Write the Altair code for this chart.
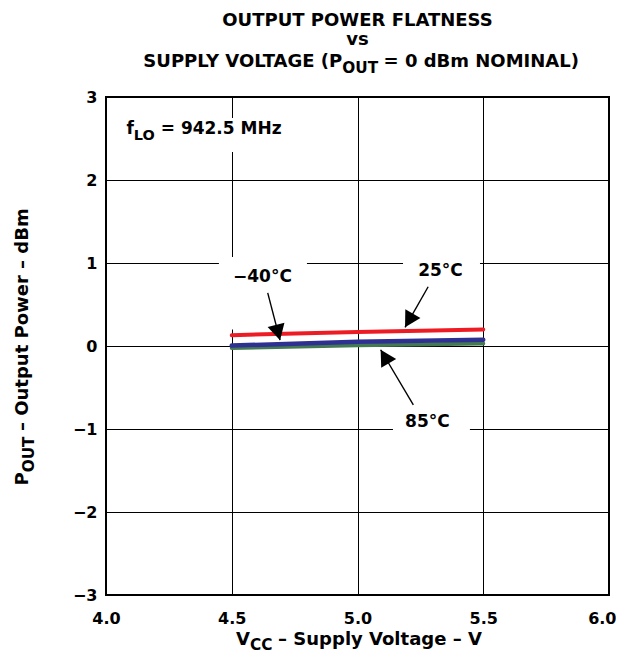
import math
import altair as alt
import pandas as pd

# ---------------- data ----------------
vcc = [4.5, 5.0, 5.5]
pout_m40 = [0.005, 0.05, 0.075]
pout_25 = [0.13, 0.17, 0.20]
pout_85 = [-0.025, 0.01, 0.03]

series_names = ["85°C", "−40°C", "25°C"]          # drawing order
series_values = [pout_85, pout_m40, pout_25]
series_colors = ["#447a52", "#2e3192", "#ed1c24"]
series_widths = [4.0, 4.5, 4.0]

x_ticks = [4.0, 4.5, 5.0, 5.5, 6.0]
y_ticks = [-3, -2, -1, 0, 1, 2, 3]

ann_text = ["−40°C", "25°C", "85°C"]
ann_x = [4.622, 5.330, 5.278]
ann_y = [0.771, 0.843, -0.976]
arrow_x1 = [4.643, 5.281, 5.222]
arrow_y1 = [0.64, 0.714, -0.71]
arrow_x2 = [4.692, 5.189, 5.092]
arrow_y2 = [0.07, 0.225, -0.045]

box_x1 = [4.449, 5.181, 5.141, 4.056]
box_x2 = [4.799, 5.487, 5.447, 4.732]
box_y1 = [0.20, 0.771, -1.084, 2.337]
box_y2 = [1.072, 1.084, -0.771, 2.747]

flo_x = 4.082
flo_y = 2.55

title_lines = ["OUTPUT POWER FLATNESS", "vs"]
title_l3 = ["SUPPLY VOLTAGE (P", "OUT", " = 0 dBm NOMINAL)"]
xtitle = ["V", "CC", " – Supply Voltage – V"]
ytitle = ["P", "OUT", " – Output Power – dBm"]
flo_text = ["f", "LO", " = 942.5 MHz"]

# ---------------- layout ----------------
W, H = 503, 498
XD, YD = [4.0, 6.0], [-3.0, 3.0]
SX = W / (XD[1] - XD[0])
SY = H / (YD[1] - YD[0])
FONT = "DejaVu Sans"
SUB = 0.85
DROP = 0.36

CW = {" ": .348, "–": .5, "−": .838, "=": .838, "(": .457, ")": .457, ".": .381, "°": .5,
      "A": .774, "B": .762, "C": .734, "D": .83, "E": .683, "F": .62, "G": .821, "H": .837,
      "I": .372, "L": .637, "M": .995, "N": .837, "O": .850, "P": .733, "R": .770, "S": .720,
      "T": .682, "U": .812, "V": .774, "W": 1.103, "Y": .726, "a": .675, "d": .716, "e": .678,
      "f": .435, "g": .716, "l": .343, "m": 1.042, "o": .687, "p": .716, "r": .493, "t": .478,
      "u": .712, "w": .924, "y": .652, "z": .582, "s": .595, "v": .652}
for d in "0123456789":
    CW[d] = .696


def tw(s, fs):
    return sum(CW.get(c, .65) for c in s) * fs * 0.98


def split_lead(s, fs):
    """strip a leading space, return (text, extra offset in px)"""
    if s.startswith(" "):
        return s[1:], tw(" ", fs)
    return s, 0.0


SXc = alt.Scale(domain=XD, nice=False, zero=False)
SYc = alt.Scale(domain=YD, nice=False, zero=False)
AX = alt.Axis(values=x_ticks, format=".1f", title=None, labelPadding=15, labelFlush=False,
              labelAlign={"condition": {"test": "datum.value >= 6", "value": "right"}, "value": "center"},
              labelOffset={"condition": {"test": "datum.value >= 6", "value": 7}, "value": 0})
AY = alt.Axis(values=y_ticks, format="d", title=None, labelPadding=9, labelFlush=False)


def X(f):
    return alt.X(f, type="quantitative", scale=SXc, axis=AX)


def Y(f):
    return alt.Y(f, type="quantitative", scale=SYc, axis=AY)


layers = []

# white boxes behind labels (hide grid lines)
boxes = pd.DataFrame({"x1": box_x1, "x2": box_x2, "y1": box_y1, "y2": box_y2})
layers.append(alt.Chart(boxes).mark_rect(color="white").encode(
    x=X("x1"), x2="x2", y=Y("y1"), y2="y2"))

# series lines
for name, vals, col, sw in zip(series_names, series_values, series_colors, series_widths):
    df = pd.DataFrame({"vcc": vcc, "p": vals, "s": name})
    layers.append(alt.Chart(df).mark_line(color=col, strokeWidth=sw, strokeCap="round").encode(
        x=X("vcc"), y=Y("p")))

# arrows
angles = []
for a, b, c, d in zip(arrow_x1, arrow_y1, arrow_x2, arrow_y2):
    dx = (c - a) * SX
    dy = -(d - b) * SY
    angles.append(math.degrees(math.atan2(dx, -dy)) % 360)
arr = pd.DataFrame({"x1": arrow_x1, "y1": arrow_y1, "x2": arrow_x2, "y2": arrow_y2, "ang": angles})
layers.append(alt.Chart(arr).mark_rule(color="black", strokeWidth=1.4).encode(
    x=X("x1"), y=Y("y1"), x2="x2", y2="y2"))
layers.append(alt.Chart(arr).mark_point(shape="M0,0L0.55,1L-0.55,1Z", filled=True, color="black",
                                        opacity=1, size=1000, strokeWidth=0).encode(
    x=X("x2"), y=Y("y2"), angle=alt.Angle("ang:Q", scale=None)))

# annotation labels
ann = pd.DataFrame({"t": ann_text, "x": ann_x, "y": ann_y})
layers.append(alt.Chart(ann).mark_text(font=FONT, fontWeight="bold", fontSize=17, align="center",
                                       baseline="alphabetic", color="black").encode(
    x=X("x"), y=Y("y"), text="t:N"))

one = pd.DataFrame({"k": [0]})


def dtxt(s, x, y, size, align="left"):
    d = pd.DataFrame({"x": [x], "y": [y], "t": [s]})
    return alt.Chart(d).mark_text(font=FONT, fontWeight="bold", fontSize=size, align=align,
                                  baseline="alphabetic", color="black").encode(
        x=X("x"), y=Y("y"), text="t:N")


def txt(s, px, py, size, align="left", angle=0):
    return alt.Chart(one).mark_text(text=s, font=FONT, fontWeight="bold", fontSize=size, align=align,
                                    baseline="alphabetic", angle=angle, color="black").encode(
        x=alt.value(px), y=alt.value(py))


# f_LO label with subscript
fs = 17
fsub = fs * SUB
anchor = flo_x + tw(flo_text[0], fs) / SX
rest, sp = split_lead(flo_text[2], fs)
layers.append(dtxt(flo_text[0], anchor, flo_y, fs, "right"))
layers.append(dtxt(flo_text[1], anchor, flo_y - DROP * fs / SY, fsub, "left"))
layers.append(dtxt(rest, anchor + (tw(flo_text[1], fsub) + sp) / SX, flo_y, fs, "left"))

# title
TFS = 18
cx = W / 2
layers.append(txt(title_lines[0], cx, -71, TFS, "center"))
layers.append(txt(title_lines[1], cx, -52, TFS, "center"))
tsub = TFS * SUB
widths = [tw(title_l3[0], TFS), tw(title_l3[1], tsub), tw(title_l3[2], TFS)]
a = cx - sum(widths) / 2 + widths[0]
tb = -30.5
rest, sp = split_lead(title_l3[2], TFS)
layers.append(txt(title_l3[0], a, tb, TFS, "right"))
layers.append(txt(title_l3[1], a, tb + DROP * TFS, tsub, "left"))
layers.append(txt(rest, a + widths[1] + sp, tb, TFS, "left"))

# x axis title
AFS = 18
asub = AFS * SUB
widths = [tw(xtitle[0], AFS), tw(xtitle[1], asub), tw(xtitle[2], AFS)]
a = cx - sum(widths) / 2 + widths[0]
xb = H + 50
rest, sp = split_lead(xtitle[2], AFS)
layers.append(txt(xtitle[0], a, xb, AFS, "right"))
layers.append(txt(xtitle[1], a, xb + 0.3 * AFS, asub, "left"))
layers.append(txt(rest, a + widths[1] + sp, xb, AFS, "left"))

# y axis title (rotated, reading upward)
widths = [tw(ytitle[0], AFS), tw(ytitle[1], asub), tw(ytitle[2], AFS)]
cy = H / 2 + 3
a = cy + sum(widths) / 2 - widths[0]
yb = -78
rest, sp = split_lead(ytitle[2], AFS)
layers.append(txt(ytitle[0], yb, a, AFS, "right", 270))
layers.append(txt(ytitle[1], yb + DROP * AFS, a, asub, "left", 270))
layers.append(txt(rest, yb, a - widths[1] - sp, AFS, "left", 270))

chart = alt.layer(*layers).properties(
    width=W, height=H,
    autosize=alt.AutoSizeParams(type="none"),
    padding={"left": 98, "top": 89, "right": 7, "bottom": 61},
    background="white",
).configure_view(
    stroke="black", strokeWidth=2
).configure_axis(
    grid=True, gridColor="black", gridOpacity=1, gridWidth=1,
    domain=False, ticks=False,
    labelFont=FONT, labelFontSize=16, labelFontWeight="bold", labelColor="black",
    labelOverlap=False,
)

chart.save("out.html", embed_options={"renderer": "svg", "actions": False})
